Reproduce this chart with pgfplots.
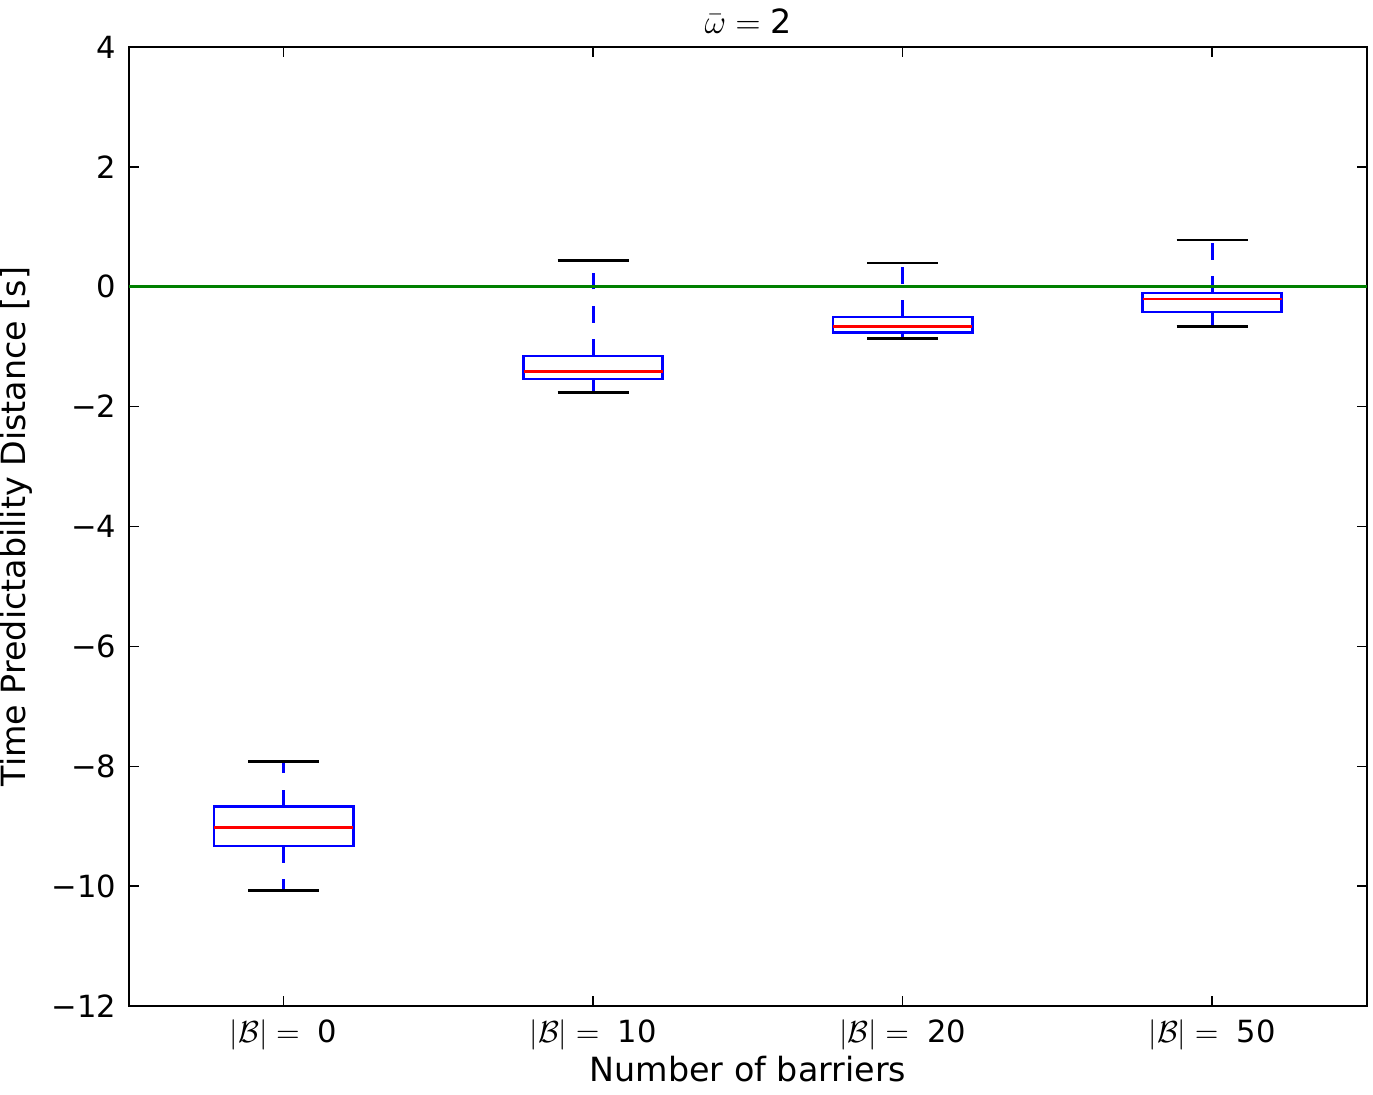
\documentclass[border=0pt]{standalone}
\usepackage{pgfplots}
\pgfplotsset{compat=1.18}
\usepackage{fontspec}
\setmainfont{DejaVu Sans}
\definecolor{mplgreen}{rgb}{0,0.5,0}
\pgfplotsset{
  boxs/.style={blue, line width=1pt},
  meds/.style={red, line width=1pt},
  whis/.style={blue, line width=1pt, dash pattern=on 6pt off 6pt},
  caps/.style={black, line width=1pt},
}
\begin{document}
\begin{tikzpicture}
\begin{axis}[
  scale only axis,
  width=445.7pt, height=345.3pt,
  xmin=0.5, xmax=4.5,
  ymin=-12, ymax=4,
  axis line style={line width=1pt},
  tick align=inside,
  tick pos=both,
  major tick length=3.6pt,
  every tick/.style={black, line width=0.5pt},
  xtick={1,2,3,4},
  xticklabels={{$|\mathcal{B}|=\mbox{\ 0}$},{$|\mathcal{B}|=\mbox{\ 10}$},{$|\mathcal{B}|=\mbox{\ 20}$},{$|\mathcal{B}|=\mbox{\ 50}$}},
  ytick={-12,-10,-8,-6,-4,-2,0,2,4},
  yticklabels={−12,−10,−8,−6,−4,−2,0,2,4},
  minor tick num=0,
  tick label style={font=\fontsize{11}{13}\selectfont},
  xticklabel style={anchor=base, yshift=-13pt, inner sep=0pt},
  yticklabel style={anchor=east, xshift=-1pt},
  label style={font=\fontsize{12}{14}\selectfont},
  xlabel={Number of barriers},
  xlabel style={at={(axis description cs:0.5,0)}, anchor=base, yshift=-27pt, inner sep=0pt},
  ylabel={Time Predictability Distance [s]},
  ylabel style={at={(axis description cs:-0.0911,0.5)}, anchor=center, inner sep=0pt},
  title={$\bar{\omega}=\mbox{2}$},
  every axis title/.style={at={(axis description cs:0.5,1)}, anchor=base, yshift=5pt, inner sep=0pt, font=\fontsize{12}{14}\selectfont},
]
% box 1 (|B|=0)
\addplot[whis] coordinates {(1,-9.33) (1,-10.07)};
\addplot[whis] coordinates {(1,-8.67) (1,-7.92)};
\addplot[caps] coordinates {(0.885,-10.07) (1.115,-10.07)};
\addplot[caps] coordinates {(0.885,-7.92) (1.115,-7.92)};
\addplot[boxs] coordinates {(0.775,-9.33) (1.225,-9.33) (1.225,-8.67) (0.775,-8.67)} -- cycle;
\addplot[meds] coordinates {(0.775,-9.02) (1.225,-9.02)};
% box 2 (|B|=10)
\addplot[whis] coordinates {(2,-1.54) (2,-1.77)};
\addplot[whis] coordinates {(2,-1.155) (2,0.44)};
\addplot[caps] coordinates {(1.885,-1.77) (2.115,-1.77)};
\addplot[caps] coordinates {(1.885,0.44) (2.115,0.44)};
\addplot[boxs] coordinates {(1.775,-1.54) (2.225,-1.54) (2.225,-1.155) (1.775,-1.155)} -- cycle;
\addplot[meds] coordinates {(1.775,-1.41) (2.225,-1.41)};
% box 3 (|B|=20)
\addplot[whis] coordinates {(3,-0.77) (3,-0.86)};
\addplot[whis] coordinates {(3,-0.505) (3,0.395)};
\addplot[caps] coordinates {(2.885,-0.86) (3.115,-0.86)};
\addplot[caps] coordinates {(2.885,0.395) (3.115,0.395)};
\addplot[boxs] coordinates {(2.775,-0.77) (3.225,-0.77) (3.225,-0.505) (2.775,-0.505)} -- cycle;
\addplot[meds] coordinates {(2.775,-0.66) (3.225,-0.66)};
% box 4 (|B|=50)
\addplot[whis] coordinates {(4,-0.42) (4,-0.67)};
\addplot[whis] coordinates {(4,-0.105) (4,0.78)};
\addplot[caps] coordinates {(3.885,-0.67) (4.115,-0.67)};
\addplot[caps] coordinates {(3.885,0.78) (4.115,0.78)};
\addplot[boxs] coordinates {(3.775,-0.42) (4.225,-0.42) (4.225,-0.105) (3.775,-0.105)} -- cycle;
\addplot[meds] coordinates {(3.775,-0.205) (4.225,-0.205)};
% zero line
\addplot[mplgreen, line width=1pt] coordinates {(0.5,0) (4.5,0)};
\end{axis}
\path ([shift={(-46pt,-31.7pt)}]current axis.south west) rectangle ([shift={(2.2pt,16.9pt)}]current axis.north east);
\end{tikzpicture}
\end{document}
